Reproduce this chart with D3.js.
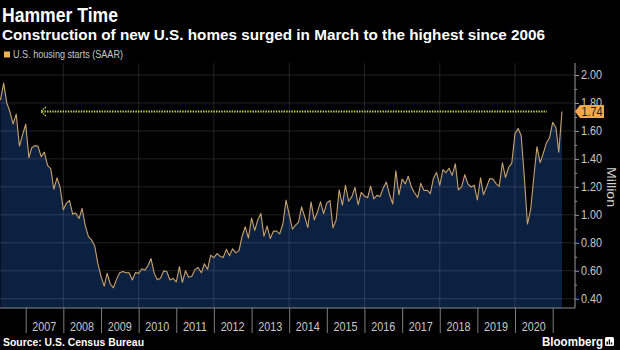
<!DOCTYPE html>
<html lang="en">
<head>
<meta charset="UTF-8">
<title>Hammer Time</title>
<script src="https://cdn.jsdelivr.net/npm/d3@7"></script>
<style>
    body { margin: 0; background: #000; }
    svg { display: block; font-family: 'Liberation Sans', Arial, sans-serif; }
    .titulo { fill: #fff; font-weight: 700; }
    .ejeY text { fill: #c9c9c9; font-size: 12px; }
    .ejeY line { stroke: #9a9a9a; }
    .ejeX line { stroke: #7d7d7d; }
    .anos { fill: #c9c9c9; font-size: 12.5px; }
    .grid { stroke: #fff; stroke-opacity: 0.13; stroke-width: 1; }
</style>
</head>
<body>
<div id="grafico"></div>
<script>
var w = 620, h = 350;

// housing starts, SAAR, millions, one value per month starting Apr 2006
var firstMonth = new Date(2006, 3, 1);
var starts2006 = [1.821, 1.942, 1.802, 1.737, 1.650, 1.720, 1.491, 1.570, 1.649];
var starts2007 = [1.409, 1.480, 1.495, 1.490, 1.415, 1.448, 1.354, 1.330, 1.183, 1.264, 1.197, 1.037];
var starts2008 = [1.084, 1.103, 1.005, 1.013, 0.973, 1.046, 0.923, 0.844, 0.820, 0.777, 0.652, 0.560];
var starts2009 = [0.490, 0.582, 0.505, 0.478, 0.540, 0.585, 0.594, 0.586, 0.585, 0.534, 0.588, 0.581];
var starts2010 = [0.614, 0.604, 0.636, 0.687, 0.583, 0.536, 0.546, 0.599, 0.595, 0.534, 0.545, 0.520];
var starts2011 = [0.630, 0.517, 0.600, 0.554, 0.561, 0.608, 0.623, 0.585, 0.650, 0.610, 0.711, 0.694];
var starts2012 = [0.723, 0.704, 0.695, 0.753, 0.708, 0.757, 0.728, 0.744, 0.847, 0.915, 0.833, 0.976];
var starts2013 = [0.888, 0.962, 1.010, 0.847, 0.919, 0.831, 0.883, 0.883, 0.864, 0.936, 1.105, 1.003];
var starts2014 = [0.897, 0.924, 0.946, 1.057, 0.985, 0.909, 1.092, 0.964, 1.018, 1.093, 1.009, 1.085];
var starts2015 = [1.102, 0.908, 0.961, 1.178, 1.069, 1.211, 1.097, 1.130, 1.196, 1.072, 1.160, 1.134];
var starts2016 = [1.122, 1.206, 1.114, 1.139, 1.131, 1.191, 1.234, 1.145, 1.078, 1.315, 1.142, 1.256];
var starts2017 = [1.221, 1.276, 1.198, 1.158, 1.124, 1.225, 1.174, 1.176, 1.152, 1.262, 1.303, 1.210];
var starts2018 = [1.324, 1.301, 1.333, 1.282, 1.365, 1.178, 1.200, 1.287, 1.222, 1.199, 1.212, 1.106];
var starts2019 = [1.265, 1.144, 1.200, 1.260, 1.255, 1.223, 1.203, 1.372, 1.267, 1.340, 1.370, 1.581];
var starts2020 = [1.617, 1.567, 1.269, 0.934, 1.038, 1.265, 1.487, 1.373, 1.438, 1.514, 1.551, 1.661];
var starts2021 = [1.625, 1.447, 1.739];

var years = [2007, 2008, 2009, 2010, 2011, 2012, 2013, 2014, 2015, 2016, 2017, 2018, 2019, 2020];
var yTicks = [0.4, 0.6, 0.8, 1.0, 1.2, 1.4, 1.6, 1.8, 2.0];
var yMinor = [0.5, 0.7, 0.9, 1.1, 1.3, 1.5, 1.7, 1.9];
var latestLabel = "1.74";
// dotted arrow back to the last time starts were this high
var arrowTip = new Date(2007, 4, 28), arrowTail = new Date(2020, 10, 6);

var valores = [].concat(starts2006, starts2007, starts2008, starts2009, starts2010,
    starts2011, starts2012, starts2013, starts2014, starts2015, starts2016,
    starts2017, starts2018, starts2019, starts2020, starts2021);

// each month is plotted at its end
var dataset = valores.map(function(v, i){
    return { date: d3.timeMonth.offset(firstMonth, i + 1), value: v };
});

var plotTop = 63, plotBottom = 308, axisX = 575;

var xScale = d3.scaleTime()
    .domain([new Date(2007, 0, 1), new Date(2021, 0, 1)])
    .range([25.7, 552.7]);

var yScale = d3.scaleLinear()
    .domain([0.4, 2.0])
    .range([298.7, 75]);

var svg = d3.select("#grafico").append("svg")
    .attr("width", w)
    .attr("height", h);

svg.append("rect").attr("width", w).attr("height", h).attr("fill", "#000");

// area + line
var area = d3.area()
    .x(function(d){ return xScale(d.date); })
    .y0(plotBottom)
    .y1(function(d){ return yScale(d.value); });

var linea = d3.line()
    .x(function(d){ return xScale(d.date); })
    .y(function(d){ return yScale(d.value); });

svg.append("path")
    .datum(dataset)
    .attr("d", area)
    .attr("fill", "#0c2040");

// grid on top of fill
svg.selectAll(".hgrid")
    .data(yTicks)
    .enter()
    .append("line")
    .attr("class", "grid")
    .attr("x1", 0).attr("x2", axisX)
    .attr("y1", function(d){ return yScale(d); })
    .attr("y2", function(d){ return yScale(d); });

svg.selectAll(".vgrid")
    .data(years.filter(function(y){ return y % 2 === 0; }))
    .enter()
    .append("line")
    .attr("class", "grid")
    .attr("x1", function(d){ return xScale(new Date(d, 0, 1)); })
    .attr("x2", function(d){ return xScale(new Date(d, 0, 1)); })
    .attr("y1", plotTop).attr("y2", plotBottom);

svg.append("path")
    .datum(dataset)
    .attr("d", linea)
    .attr("fill", "none")
    .attr("stroke", "#c9a26c")
    .attr("stroke-width", 1.1)
    .attr("stroke-linejoin", "round");

// dotted arrow
var yLast = yScale(dataset[dataset.length - 1].value);
var xTip = xScale(arrowTip);
svg.append("line")
    .attr("x1", xTip + 1).attr("x2", xScale(arrowTail))
    .attr("y1", yLast).attr("y2", yLast)
    .attr("stroke", "#c3d64a")
    .attr("stroke-width", 2)
    .attr("stroke-dasharray", "1.4,1.2");
svg.append("path")
    .attr("d", "M" + (xTip + 5) + "," + (yLast - 4.5) + "L" + xTip + "," + yLast + "L" + (xTip + 5) + "," + (yLast + 4.5))
    .attr("fill", "none")
    .attr("stroke", "#c3d64a")
    .attr("stroke-width", 1.4)
    .attr("stroke-dasharray", "1.4,1");

// right axis
svg.append("line")
    .attr("x1", axisX).attr("x2", axisX)
    .attr("y1", plotTop).attr("y2", plotBottom)
    .attr("stroke", "#9a9a9a");
svg.append("line")
    .attr("x1", 0).attr("x2", axisX)
    .attr("y1", plotBottom).attr("y2", plotBottom)
    .attr("stroke", "#8a8a8a");

svg.append("g")
    .attr("class", "ejeY")
    .attr("transform", "translate(" + axisX + ",0)")
    .call(d3.axisRight(yScale).tickValues(yMinor).tickSize(2).tickFormat(""))
    .call(function(g){ g.select(".domain").remove(); });

svg.append("g")
    .attr("class", "ejeY")
    .attr("transform", "translate(" + axisX + ",0)")
    .call(d3.axisRight(yScale).tickValues(yTicks).tickSize(4).tickPadding(2).tickFormat(d3.format(".2f")))
    .call(function(g){ g.select(".domain").remove(); })
    .selectAll("text")
    .attr("textLength", 21)
    .attr("lengthAdjust", "spacingAndGlyphs");

// bottom axis: year dividers
svg.append("g")
    .attr("class", "ejeX")
    .attr("transform", "translate(0," + plotBottom + ")")
    .call(d3.axisBottom(xScale)
        .tickValues(years.concat([2021]).map(function(y){ return new Date(y, 0, 1); }))
        .tickSize(25)
        .tickFormat(""))
    .call(function(g){ g.select(".domain").remove(); });

svg.selectAll(".anos")
    .data(years)
    .enter()
    .append("text")
    .attr("class", "anos")
    .attr("x", function(d){ return xScale(new Date(d, 6, 1)); })
    .attr("y", 331)
    .attr("text-anchor", "middle")
    .attr("textLength", 24)
    .attr("lengthAdjust", "spacingAndGlyphs")
    .text(function(d){ return d; });

// latest value tag (sits over the 1.80 label as in the original)
var tag = svg.append("g").attr("transform", "translate(" + axisX + "," + yLast + ")");
tag.append("path")
    .attr("d", "M0,0L5,-6.5H29V6.5H5Z")
    .attr("fill", "#f2aa48");
tag.append("text")
    .attr("x", 17).attr("dy", "0.36em")
    .attr("text-anchor", "middle")
    .attr("fill", "#1a1a1a")
    .attr("font-size", 12.5)
    .attr("textLength", 21)
    .attr("lengthAdjust", "spacingAndGlyphs")
    .text(latestLabel);

// y title
svg.append("text")
    .attr("transform", "translate(606.5,187) rotate(90)")
    .attr("text-anchor", "middle")
    .attr("fill", "#d2d2d2")
    .attr("font-size", 13.5)
    .attr("textLength", 40)
    .attr("lengthAdjust", "spacingAndGlyphs")
    .text("Million");

// titles
svg.append("text").attr("class", "titulo")
    .attr("x", 2).attr("y", 22)
    .attr("font-size", 20)
    .attr("textLength", 116).attr("lengthAdjust", "spacingAndGlyphs")
    .text("Hammer Time");

svg.append("text").attr("class", "titulo")
    .attr("x", 2).attr("y", 40)
    .attr("font-size", 15)
    .attr("textLength", 543).attr("lengthAdjust", "spacingAndGlyphs")
    .text("Construction of new U.S. homes surged in March to the highest since 2006");

// legend
svg.append("rect")
    .attr("x", 4).attr("y", 51.5).attr("width", 6).attr("height", 6)
    .attr("fill", "#f2b24c");
svg.append("text")
    .attr("x", 13).attr("y", 57.5)
    .attr("fill", "#c8c8c8")
    .attr("font-size", 10.5)
    .attr("textLength", 110).attr("lengthAdjust", "spacingAndGlyphs")
    .text("U.S. housing starts (SAAR)");

// footer
svg.append("text").attr("class", "titulo")
    .attr("x", 3).attr("y", 346)
    .attr("font-size", 11)
    .attr("textLength", 141).attr("lengthAdjust", "spacingAndGlyphs")
    .text("Source: U.S. Census Bureau");

svg.append("text")
    .attr("x", 542).attr("y", 345.5)
    .attr("fill", "#fff")
    .attr("font-size", 13)
    .attr("font-weight", 700)
    .attr("textLength", 61).attr("lengthAdjust", "spacingAndGlyphs")
    .text("Bloomberg");

var logo = svg.append("g").attr("transform", "translate(605,337)");
logo.append("rect").attr("width", 9).attr("height", 9).attr("rx", 1.5).attr("fill", "#fff");
logo.selectAll("rect.b")
    .data([3, 5, 2])
    .enter()
    .append("rect")
    .attr("class", "b")
    .attr("x", function(d, i){ return 1.5 + i * 2.2; })
    .attr("y", function(d){ return 7.5 - d; })
    .attr("width", 1.4)
    .attr("height", function(d){ return d; })
    .attr("fill", "#000");
</script>
</body>
</html>
